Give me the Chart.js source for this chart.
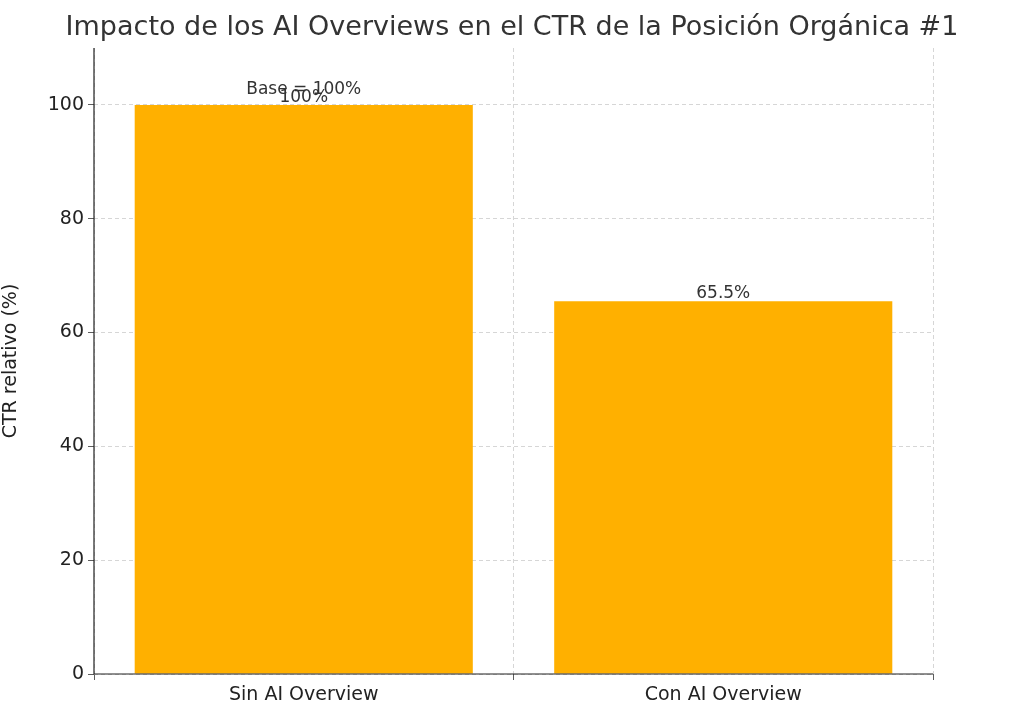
<!DOCTYPE html>
<html><head><meta charset="utf-8">
<script src="https://cdn.jsdelivr.net/npm/chart.js@4"></script>
<style>html,body{margin:0;padding:0;background:#fff}#wrap{width:1024px;height:717px}</style>
</head><body><div id="wrap"><canvas id="c" width="1024" height="717"></canvas></div>
<script>
const categories = ["Sin AI Overview", "Con AI Overview"];
const ctrValues = [100, 65.5];
const valueLabels = ["100%", "65.5%"];
const baseNote = "Base = 100%";
const titleText = "Impacto de los AI Overviews en el CTR de la Posición Orgánica #1";
const yTitle = "CTR relativo (%)";

const FONT = "'DejaVu Sans', sans-serif";
const grid = {color: '#cccccc', lineWidth: 0.8, tickLength: 6, tickColor:'#333'};

const labelPlugin = {
  id: 'labels',
  afterDraw(chart) {
    const ctx = chart.ctx;
    const meta = chart.getDatasetMeta(0);
    ctx.save();
    // title
    ctx.fillStyle = '#333';
    ctx.font = "27px " + FONT;
    ctx.textAlign = 'center'; ctx.textBaseline = 'middle';
    ctx.fillText(titleText, 512, 28);
    // value labels
    ctx.font = "17px " + FONT;
    ctx.textBaseline = 'bottom';
    meta.data.forEach((bar, i) => {
      ctx.fillText(valueLabels[i], bar.x, bar.y + 1);
    });
    const b0 = meta.data[0];
    ctx.fillText(baseNote, b0.x, b0.y - 7);
    // spines
    const a = chart.chartArea;
    ctx.strokeStyle = '#222'; ctx.lineWidth = 1.2;
    ctx.beginPath(); ctx.moveTo(a.left, a.top); ctx.lineTo(a.left, a.bottom); ctx.lineTo(a.right, a.bottom); ctx.stroke();
    ctx.restore();
  }
};

new Chart(document.getElementById('c'), {
  type: 'bar',
  data: { labels: categories, datasets: [{ data: ctrValues, backgroundColor: '#FFB000', categoryPercentage: 1, barPercentage: 0.806 }] },
  options: {
    responsive: false, animation: false,
    layout: { padding: { top: 48, right: 91, left: 0, bottom: 0 } },
    plugins: { legend: { display: false }, title: { display: false }, tooltip: { enabled: false } },
    scales: {
      x: {
        grid: { ...grid, drawOnChartArea: true, borderDash: [4,3] },
        border: { display: false, dash: [4,3] },
        ticks: { color: '#222', font: { size: 19, family: FONT }, padding: 4 },
        afterFit(s) { s.height = 43; }
      },
      y: {
        min: 0, max: 110,
        afterBuildTicks(s) { s.ticks = [0,20,40,60,80,100].map(v => ({value: v})); },
        grid: { ...grid },
        border: { display: false, dash: [4,3] },
        ticks: { color: '#222', font: { size: 19, family: FONT }, padding: 4 },
        title: { display: true, text: yTitle, color: '#222', font: { size: 19, family: FONT }, padding: 0 },
        afterFit(s) { s.width = 94; }
      }
    }
  },
  plugins: [labelPlugin]
});
</script></body></html>
